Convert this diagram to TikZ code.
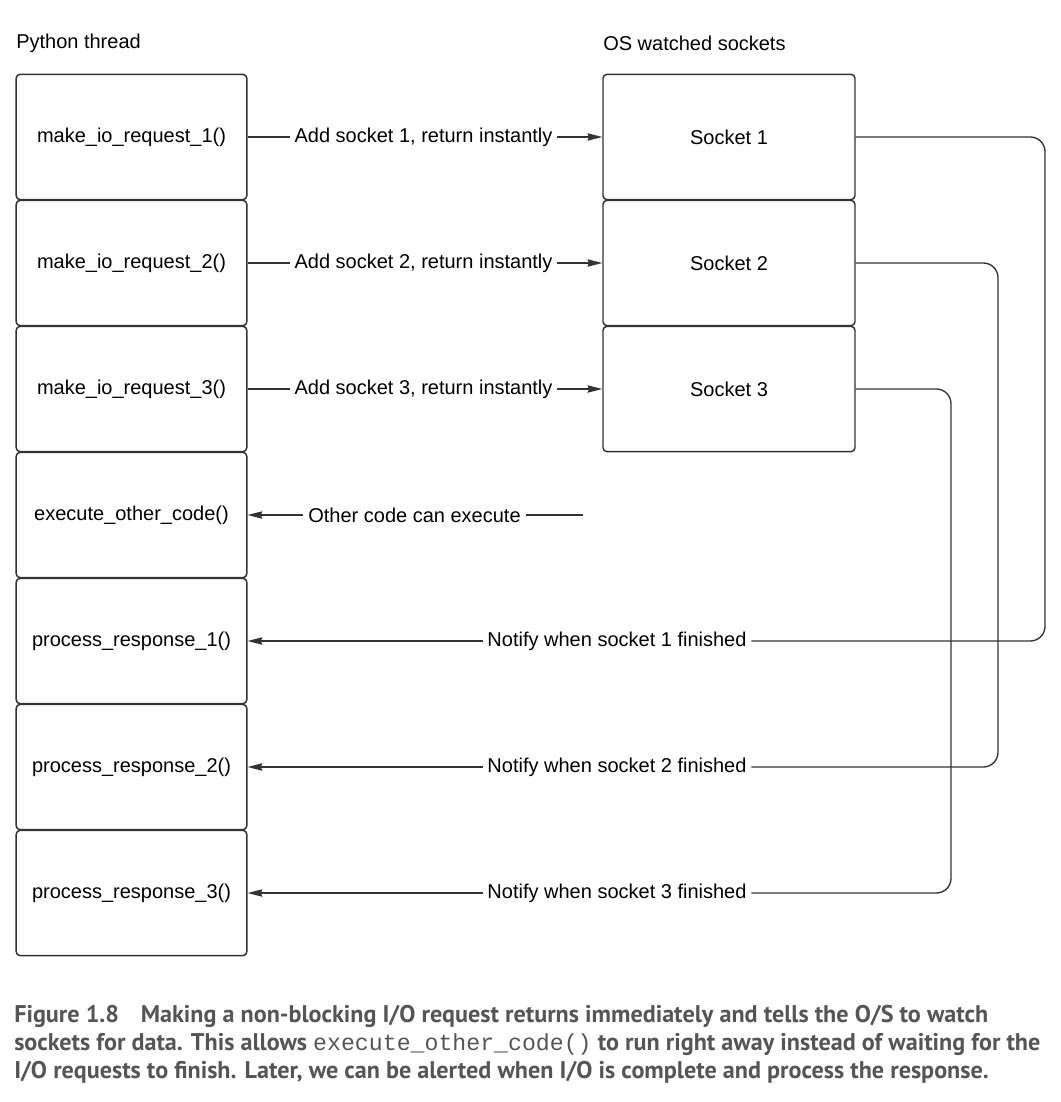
\documentclass[tikz,border=0pt]{standalone}
\usepackage{fontspec}
\setmainfont{Liberation Sans}
\newfontfamily\capfont{PT Sans}
\newfontfamily\capmono{Liberation Mono}
\usetikzlibrary{arrows.meta}
\definecolor{ln}{HTML}{333333}
\definecolor{capgray}{HTML}{555555}
\begin{document}
\begin{tikzpicture}[x=0.75pt,y=-0.75pt,
  every node/.style={font=\fontsize{15}{18}\selectfont, text=black},
  lbox/.style={draw=ln, line width=1.1pt, rounded corners=3pt, minimum width=173pt, minimum height=94pt, inner sep=0pt},
  rbox/.style={draw=ln, line width=1.1pt, rounded corners=3pt, minimum width=189pt, minimum height=94pt, inner sep=0pt},
  lab/.style={inner sep=3.5pt},
  conn/.style={draw=ln, line width=1pt},
  arr/.style={conn, -{Stealth[length=11pt,width=5.5pt,inset=1pt]}},
  loop/.style={conn, rounded corners=11pt},
  captext/.style={anchor=base west, inner sep=0pt, text=capgray, font=\capfont\bfseries\fontsize{18.1}{21}\selectfont}
]
\useasboundingbox (0,0) rectangle (1060,1102);

% headers
\node[anchor=west, inner sep=0pt] (h1) at (16,43) {Python thread};
\node[anchor=west, inner sep=0pt] (h2) at (603,43) {OS watched sockets};

% left column
\node[lbox] (m1) at (131.5,137) {make\_io\_request\_1()};
\node[lbox] (m2) at (131.5,263) {make\_io\_request\_2()};
\node[lbox] (m3) at (131.5,389) {make\_io\_request\_3()};
\node[lbox] (ex) at (131.5,515) {execute\_other\_code()};
\node[lbox] (p1) at (131.5,641) {process\_response\_1()};
\node[lbox] (p2) at (131.5,767) {process\_response\_2()};
\node[lbox] (p3) at (131.5,893) {process\_response\_3()};

% right column
\node[rbox] (s1) at (729,137) {Socket 1};
\node[rbox] (s2) at (729,263) {Socket 2};
\node[rbox] (s3) at (729,389) {Socket 3};

% add socket arrows
\node[lab] (a1) at (423.5,137) {Add socket 1, return instantly};
\node[lab] (a2) at (423.5,263) {Add socket 2, return instantly};
\node[lab] (a3) at (423.5,389) {Add socket 3, return instantly};
\foreach \i in {1,2,3}{
  \draw[conn] (m\i.east) -- (a\i.west);
  \draw[arr] (a\i.east) -- (s\i.west);
}

% other code
\node[lab] (oc) at (414.5,515) {Other code can execute};
\coordinate (oe) at (583,515);
\draw[arr] (oc.west) -- (ex.east);
\draw[conn] (oc.east) -- (oe);

% notify
\node[lab] (n1) at (617,641) {Notify when socket 1 finished};
\node[lab] (n2) at (617,767) {Notify when socket 2 finished};
\node[lab] (n3) at (617,893) {Notify when socket 3 finished};
\coordinate (c1) at (1045,641);
\coordinate (c2) at (998,767);
\coordinate (c3) at (951,893);
\foreach \i in {1,2,3}{
  \draw[arr] (n\i.west) -- (p\i.east);
  \draw[loop] (s\i.east) -| (c\i) -- (n\i.east);
}

% caption
\node[captext] (cap1) at (14,1022) {Figure 1.8\hspace{0.9em}Making a non-blocking I/O request returns immediately and tells the O/S to watch};
\node[captext] (cap2) at (14,1050) {sockets for data. This allows {\capmono\mdseries\fontsize{17.4}{21}\selectfont execute\_other\_code()} to run right away instead of waiting for the};
\node[captext] (cap3) at (14,1078) {I/O requests to finish. Later, we can be alerted when I/O is complete and process the response.};
\end{tikzpicture}
\end{document}
